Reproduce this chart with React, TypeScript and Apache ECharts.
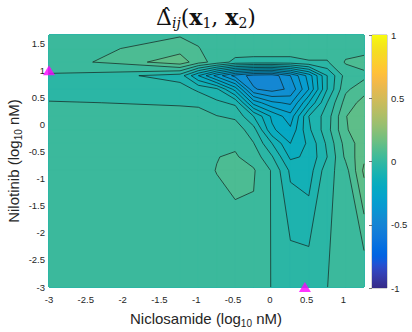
import React, { useEffect, useRef } from "react";
import * as echarts from "echarts";

// log10 nM dose grid (0 dose drawn at -3)
const niclosamideLog = [-3, -1.22, -0.97, -0.72, -0.47, -0.22, 0.03, 0.28, 0.53, 0.78, 1.03, 1.28];
const nilotinibLog = [-3, -0.85, -0.6, -0.35, -0.1, 0.15, 0.4, 0.65, 0.9, 1.15, 1.4, 1.65];

// estimated Delta values: one row per nilotinib dose (bottom to top), one column per niclosamide dose
const deltaRow0 = [0.02, 0.02, 0.02, 0.02, 0.02, 0.027, -0.002, -0.01, -0.01, -0.001, 0.04, 0.0];
const deltaRow1 = [0.02, 0.02, 0.04, 0.051, 0.06, 0.055, -0.005, -0.11, -0.125, -0.02, 0.03, 0.16];
const deltaRow2 = [0.02, 0.02, 0.03, 0.049, 0.055, 0.03, -0.045, -0.16, -0.14, -0.05, 0.06, 0.14];
const deltaRow3 = [0.02, 0.02, 0.02, 0.03, 0.0425, 0.002, -0.1, -0.2, -0.14, -0.04, 0.07, 0.13];
const deltaRow4 = [0.02, 0.02, 0.02, 0.03, 0.03, -0.03, -0.19, -0.24, -0.11, -0.02, 0.095, 0.13];
const deltaRow5 = [0.02, 0.02, 0.02, 0.002, -0.01, -0.1, -0.21, -0.28, -0.1, -0.025, 0.098, 0.13];
const deltaRow6 = [0.004, -0.006, -0.01, -0.04, -0.06, -0.27, -0.34, -0.36, -0.2, -0.05, 0.07, 0.12];
const deltaRow7 = [-0.03, -0.028, -0.06, -0.09, -0.22, -0.445, -0.47, -0.44, -0.3, -0.1, 0.04, 0.08];
const deltaRow8 = [-0.002, -0.072, -0.2, -0.32, -0.42, -0.47, -0.48, -0.4, -0.28, -0.1, 0.02, 0.037];
const deltaRow9 = [0.01, 0.13, 0.07, 0.03, -0.015, -0.02, -0.02, -0.02, -0.005, -0.005, 0.055, 0.07];
const deltaRow10 = [0.014, 0.08, 0.052, 0.03, 0.03, 0.03, 0.03, 0.03, 0.03, 0.03, 0.03, 0.03];
const deltaRow11 = [0.03, 0.045, 0.04, 0.03, 0.03, 0.03, 0.03, 0.03, 0.03, 0.03, 0.03, 0.03];
const deltaGrid = [
  deltaRow0, deltaRow1, deltaRow2, deltaRow3, deltaRow4, deltaRow5,
  deltaRow6, deltaRow7, deltaRow8, deltaRow9, deltaRow10, deltaRow11,
];

const contourLevels = [-0.45, -0.4, -0.35, -0.3, -0.25, -0.2, -0.15, -0.1, -0.05, 0, 0.05, 0.1, 0.15];
const markerPoints = [[-3, 1], [0.477, -3]];
const colorRange = [-1, 1];

const PARULA = [
  [0.2081, 0.1663, 0.5292], [0.2116, 0.1898, 0.5777], [0.2123, 0.2138, 0.627], [0.2081, 0.2386, 0.6771],
  [0.1959, 0.2645, 0.7279], [0.1707, 0.2919, 0.7792], [0.1253, 0.3242, 0.8303], [0.0591, 0.3598, 0.8683],
  [0.0117, 0.3875, 0.882], [0.006, 0.4086, 0.8828], [0.0165, 0.4266, 0.8786], [0.0329, 0.443, 0.872],
  [0.0498, 0.4586, 0.8641], [0.0629, 0.4737, 0.8554], [0.0723, 0.4887, 0.8467], [0.0779, 0.504, 0.8384],
  [0.0793, 0.52, 0.8312], [0.0749, 0.5375, 0.8263], [0.0641, 0.557, 0.824], [0.0488, 0.5772, 0.8228],
  [0.0343, 0.5966, 0.8199], [0.0265, 0.6137, 0.8135], [0.0239, 0.6287, 0.8038], [0.0231, 0.6418, 0.7913],
  [0.0228, 0.6535, 0.7768], [0.0267, 0.6642, 0.7607], [0.0384, 0.6743, 0.7436], [0.059, 0.6838, 0.7254],
  [0.0843, 0.6928, 0.7062], [0.1133, 0.7015, 0.6859], [0.1453, 0.7098, 0.6646], [0.1801, 0.7177, 0.6424],
  [0.2178, 0.725, 0.6193], [0.2586, 0.7317, 0.5954], [0.3022, 0.7376, 0.5712], [0.3482, 0.7424, 0.5473],
  [0.3953, 0.7459, 0.5244], [0.442, 0.7481, 0.5033], [0.4871, 0.7491, 0.484], [0.53, 0.7491, 0.4661],
  [0.5709, 0.7485, 0.4494], [0.6099, 0.7473, 0.4337], [0.6473, 0.7456, 0.4188], [0.6834, 0.7435, 0.4044],
  [0.7184, 0.7411, 0.3905], [0.7525, 0.7384, 0.3768], [0.7858, 0.7356, 0.3633], [0.8185, 0.7327, 0.3498],
  [0.8507, 0.7299, 0.336], [0.8824, 0.7274, 0.3217], [0.9139, 0.7258, 0.3063], [0.945, 0.7261, 0.2886],
  [0.9739, 0.7314, 0.2666], [0.9938, 0.7455, 0.2403], [0.999, 0.7653, 0.2164], [0.9955, 0.7861, 0.1967],
  [0.988, 0.8066, 0.1794], [0.9789, 0.8271, 0.1633], [0.9697, 0.8481, 0.1475], [0.9626, 0.8705, 0.1309],
  [0.9589, 0.8949, 0.1132], [0.9598, 0.9218, 0.0948], [0.9661, 0.9514, 0.0755], [0.9763, 0.9831, 0.0538],
];

function parula(v: number): string {
  const t = Math.min(1, Math.max(0, (v - colorRange[0]) / (colorRange[1] - colorRange[0]))) * (PARULA.length - 1);
  const i = Math.floor(t);
  const f = t - i;
  const a = PARULA[i];
  const b = PARULA[Math.min(i + 1, PARULA.length - 1)];
  const c = a.map((x, k) => Math.round((x + (b[k] - x) * f) * 255));
  return `rgb(${c[0]},${c[1]},${c[2]})`;
}

const STEP = contourLevels[1] - contourLevels[0];
function bandColor(k: number): string {
  if (k < 0) return parula(contourLevels[0] - STEP / 2);
  return parula(contourLevels[k] + STEP / 2);
}

const LINE_COLOR = "#10201f";

function cellGeometry(api: any) {
  const i = api.value(2) as number;
  const j = api.value(3) as number;
  const X = niclosamideLog;
  const Y = nilotinibLog;
  const pts = [
    api.coord([X[i], Y[j]]),
    api.coord([X[i + 1], Y[j]]),
    api.coord([X[i + 1], Y[j + 1]]),
    api.coord([X[i], Y[j + 1]]),
  ];
  const vals = [deltaGrid[j][i], deltaGrid[j][i + 1], deltaGrid[j + 1][i + 1], deltaGrid[j + 1][i]];
  return { pts, vals };
}

function lerp(p: number[], q: number[], t: number) {
  return [p[0] + (q[0] - p[0]) * t, p[1] + (q[1] - p[1]) * t];
}

// one item = one cell at one level; items are ordered level by level
function renderFill(_params: any, api: any) {
  const { pts, vals } = cellGeometry(api);
  const k = api.value(4) as number;
  let poly: number[][] = pts;
  if (k >= 0) {
    const L = contourLevels[k];
    poly = [];
    for (let e = 0; e < 4; e++) {
      const a = e;
      const b = (e + 1) % 4;
      const ina = vals[a] >= L;
      const inb = vals[b] >= L;
      if (ina) poly.push(pts[a]);
      if (ina !== inb) poly.push(lerp(pts[a], pts[b], (L - vals[a]) / (vals[b] - vals[a])));
    }
  }
  if (poly.length < 3) return null;
  const c = bandColor(k);
  return {
    type: "polygon",
    shape: { points: poly },
    style: { fill: c, stroke: c, lineWidth: 1 },
    silent: true,
  };
}

function renderLines(_params: any, api: any) {
  const { pts, vals } = cellGeometry(api);
  const children: any[] = [];
  const seg = (p: number[], q: number[]) =>
    children.push({
      type: "line",
      shape: { x1: p[0], y1: p[1], x2: q[0], y2: q[1] },
      style: { stroke: LINE_COLOR, lineWidth: 0.7 },
    });
  contourLevels.forEach((L) => {
    const cross: number[][] = [];
    for (let e = 0; e < 4; e++) {
      const a = e;
      const b = (e + 1) % 4;
      if ((vals[a] >= L) !== (vals[b] >= L)) {
        cross.push(lerp(pts[a], pts[b], (L - vals[a]) / (vals[b] - vals[a])));
      }
    }
    if (cross.length === 2) seg(cross[0], cross[1]);
    else if (cross.length === 4) {
      const centre = (vals[0] + vals[1] + vals[2] + vals[3]) / 4;
      if ((centre >= L) === (vals[0] >= L)) {
        seg(cross[0], cross[1]);
        seg(cross[2], cross[3]);
      } else {
        seg(cross[3], cross[0]);
        seg(cross[1], cross[2]);
      }
    }
  });
  return { type: "group", children, silent: true };
}

function renderColorbar(_params: any, api: any) {
  const top = api.coord([0, colorRange[1]]);
  const bottom = api.coord([1, colorRange[0]]);
  const stops = PARULA.map((_, k) => ({
    offset: k / (PARULA.length - 1),
    color: parula(colorRange[1] - (k / (PARULA.length - 1)) * (colorRange[1] - colorRange[0])),
  }));
  return {
    type: "rect",
    shape: { x: top[0], y: top[1], width: bottom[0] - top[0], height: bottom[1] - top[1] },
    style: { fill: new echarts.graphic.LinearGradient(0, 0, 0, 1, stops) },
    silent: true,
  };
}

export default function App() {
  const ref = useRef<HTMLDivElement>(null);

  useEffect(() => {
    if (!ref.current) return;
    const chart = echarts.init(ref.current, null, { renderer: "svg" });

    const cellData: number[][] = [];
    for (let j = 0; j < nilotinibLog.length - 1; j++) {
      for (let i = 0; i < niclosamideLog.length - 1; i++) {
        cellData.push([niclosamideLog[i], nilotinibLog[j], i, j]);
      }
    }
    const fillData: number[][] = [];
    for (let k = -1; k < contourLevels.length; k++) {
      cellData.forEach((c) => fillData.push([c[0], c[1], c[2], c[3], k]));
    }

    const labelStyle = { fontSize: 9.5, color: "#262626", fontFamily: "Liberation Sans" };
    const serif = "DejaVu Serif";

    const option: any = {
      animation: false,
      backgroundColor: "#ffffff",
      grid: [
        { left: 49, top: 35, width: 315, height: 252, show: true, borderColor: "#c8c8c8", borderWidth: 1, backgroundColor: "transparent" },
        { left: 372, top: 35, width: 15, height: 253, show: true, borderColor: "#a8a8a8", borderWidth: 1, backgroundColor: "transparent" },
      ],
      xAxis: [
        {
          type: "value", gridIndex: 0, min: -3, max: niclosamideLog[niclosamideLog.length - 1], interval: 0.5,
          axisLine: { show: false }, axisTick: { show: false }, splitLine: { show: false },
          axisLabel: { ...labelStyle, margin: 7, showMaxLabel: false },
        },
        { type: "value", gridIndex: 1, min: 0, max: 1, show: false },
      ],
      yAxis: [
        {
          type: "value", gridIndex: 0, min: -3, max: nilotinibLog[nilotinibLog.length - 1], interval: 0.5,
          axisLine: { show: false }, axisTick: { show: false }, splitLine: { show: false },
          axisLabel: { ...labelStyle, margin: 4, showMaxLabel: false },
        },
        {
          type: "value", gridIndex: 1, min: colorRange[0], max: colorRange[1], interval: 0.5, position: "right",
          axisLine: { show: false }, splitLine: { show: false },
          axisTick: { show: true, inside: true, length: 3, lineStyle: { color: "#555", width: 0.8 } },
          axisLabel: { ...labelStyle, margin: 4 },
        },
      ],
      series: [
        { type: "custom", xAxisIndex: 0, yAxisIndex: 0, renderItem: renderFill, data: fillData, encode: { x: 0, y: 1 }, z: 1, silent: true },
        { type: "custom", xAxisIndex: 0, yAxisIndex: 0, renderItem: renderLines, data: cellData, encode: { x: 0, y: 1 }, z: 2, silent: true },
        {
          type: "scatter", xAxisIndex: 0, yAxisIndex: 0, data: markerPoints, symbol: "triangle", symbolSize: [12, 10],
          itemStyle: { color: "#ff00ff" }, clip: false, z: 5, silent: true,
        },
        { type: "custom", xAxisIndex: 1, yAxisIndex: 1, renderItem: renderColorbar, data: [[0, colorRange[0]]], encode: { x: 0, y: 1 }, z: 1, silent: true },
      ],
      graphic: [
        {
          type: "text", x: 206, y: 17,
          style: {
            text: "{d|\u0394\u0302}{si|ij}{p|(}{b|x}{sn|1}{p|, }{b|x}{sn|2}{p|)}",
            align: "center", verticalAlign: "middle", textAlign: "center", textVerticalAlign: "middle",
            fill: "#111",
            rich: {
              d: { fontFamily: serif, fontSize: 22, lineHeight: 25, verticalAlign: "middle", fill: "#111" },
              p: { fontFamily: serif, fontSize: 22, lineHeight: 25, verticalAlign: "middle", fill: "#111" },
              b: { fontFamily: serif, fontSize: 22, fontWeight: "bold", lineHeight: 25, verticalAlign: "middle", fill: "#111" },
              si: { fontFamily: serif, fontSize: 14, fontStyle: "italic", lineHeight: 10, verticalAlign: "bottom", fill: "#111" },
              sn: { fontFamily: serif, fontSize: 14, lineHeight: 10, verticalAlign: "bottom", fill: "#111" },
            },
          },
        },
        {
          type: "text", x: 206, y: 318,
          style: {
            text: "{n|Niclosamide (log}{s|10}{n| nM)}",
            align: "center", verticalAlign: "middle", textAlign: "center", textVerticalAlign: "middle",
            rich: {
              n: { fontFamily: "Liberation Sans", fontSize: 15, lineHeight: 20, verticalAlign: "middle", fill: "#262626" },
              s: { fontFamily: "Liberation Sans", fontSize: 10, lineHeight: 8, verticalAlign: "bottom", fill: "#262626" },
            },
          },
        },
        {
          type: "text", x: 13, y: 161, rotation: Math.PI / 2,
          style: {
            text: "{n|Nilotinib (log}{s|10}{n| nM)}",
            align: "center", verticalAlign: "middle", textAlign: "center", textVerticalAlign: "middle",
            rich: {
              n: { fontFamily: "Liberation Sans", fontSize: 15, lineHeight: 20, verticalAlign: "middle", fill: "#262626" },
              s: { fontFamily: "Liberation Sans", fontSize: 10, lineHeight: 8, verticalAlign: "bottom", fill: "#262626" },
            },
          },
        },
      ],
    };

    chart.setOption(option);
    return () => chart.dispose();
  }, []);

  return <div ref={ref} style={{ position: "absolute", left: 0, top: 0, width: 412, height: 332 }} />;
}
